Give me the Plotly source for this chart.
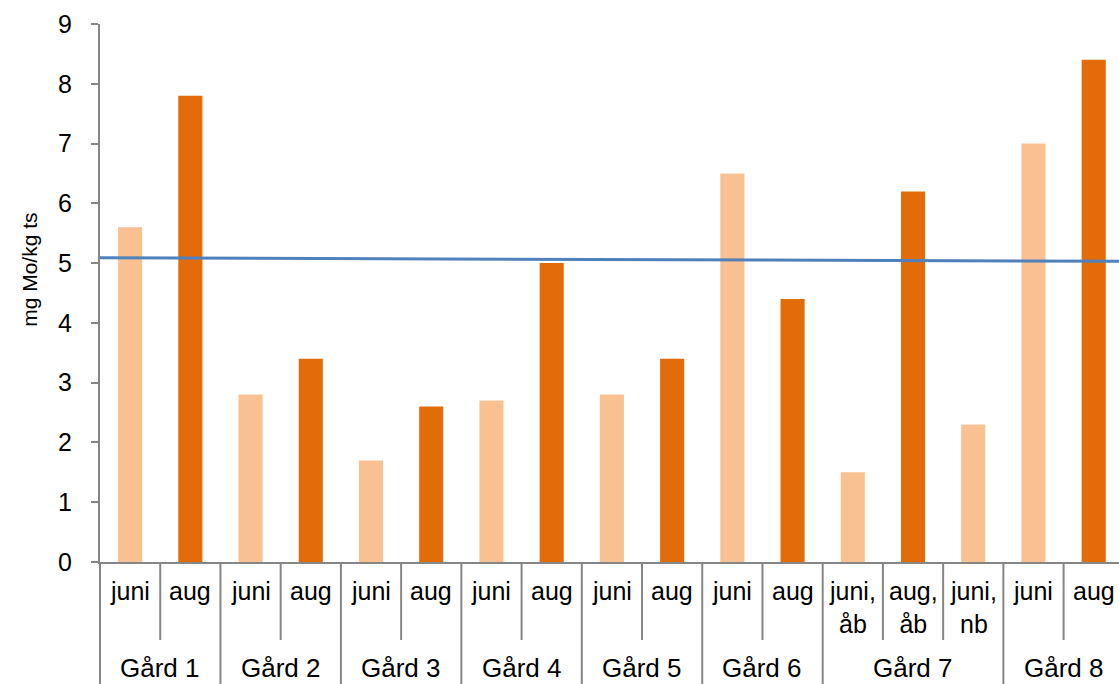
import plotly.graph_objects as go

# Molybdenum content per farm and sampling occasion
farms = ["Gård 1", "Gård 2", "Gård 3", "Gård 4", "Gård 5", "Gård 6", "Gård 7", "Gård 8"]
samples = [
    ["juni", "aug"],
    ["juni", "aug"],
    ["juni", "aug"],
    ["juni", "aug"],
    ["juni", "aug"],
    ["juni", "aug"],
    ["juni,<br>åb", "aug,<br>åb", "juni,<br>nb"],
    ["juni", "aug"],
]
values = [
    [5.6, 7.8],
    [2.8, 3.4],
    [1.7, 2.6],
    [2.7, 5.0],
    [2.8, 3.4],
    [6.5, 4.4],
    [1.5, 6.2, 2.3],
    [7.0, 8.4],
]
# reference level drawn across the chart (start, end)
reference_level = [5.09, 5.03]

y_ticks = list(range(0, 10))
y_title = "mg Mo/kg ts"

JUNI_COLOR = "#F9C191"
AUG_COLOR = "#E36C0A"
LINE_COLOR = "#4F81BD"
AXIS_COLOR = "#868686"
FONT = "Liberation Sans, Arial, sans-serif"

xs, ys, colors, labels = [], [], [], []
group_bounds = []
pos = 0
for farm, subs, vals in zip(farms, samples, values):
    start = pos
    for s, v in zip(subs, vals):
        xs.append(pos)
        ys.append(v)
        labels.append(s)
        colors.append(JUNI_COLOR if s.startswith("juni") else AUG_COLOR)
        pos += 1
    group_bounds.append((start, pos - 1))

n = len(xs)

fig = go.Figure()
fig.add_trace(go.Bar(
    x=xs, y=ys, marker=dict(color=colors, line=dict(width=0)),
    width=0.4, showlegend=False, hoverinfo="y",
))
fig.add_trace(go.Scatter(
    x=[-0.5, n - 0.5], y=reference_level, mode="lines",
    line=dict(color=LINE_COLOR, width=3), showlegend=False, hoverinfo="skip",
))

annotations = []
shapes = []
# sample labels under each bar
for x, lab in zip(xs, labels):
    annotations.append(dict(
        x=x, y=0, xref="x", yref="paper", text=lab, showarrow=False,
        yanchor="top", yshift=-13, font=dict(size=25, color="#000000", family=FONT),
        align="center",
    ))
# farm labels and divider lines
for farm, (a, b) in zip(farms, group_bounds):
    annotations.append(dict(
        x=(a + b) / 2, y=0, xref="x", yref="paper", text=farm, showarrow=False,
        yanchor="bottom", yshift=-123, font=dict(size=26, color="#000000", family=FONT),
    ))
    for k in range(a, b):
        shapes.append(dict(
            type="line", xref="x", yref="paper", x0=k + 0.5, x1=k + 0.5,
            y0=0, y1=-0.145, line=dict(color=AXIS_COLOR, width=2),
        ))
    if a > 0:
        shapes.append(dict(
            type="line", xref="x", yref="paper", x0=a - 0.5, x1=a - 0.5,
            y0=0, y1=-0.25, line=dict(color=AXIS_COLOR, width=2),
        ))
shapes.append(dict(
    type="line", xref="paper", yref="paper", x0=0, x1=0,
    y0=0, y1=-0.25, line=dict(color=AXIS_COLOR, width=2),
))

# rotated y-axis title
annotations.append(dict(
    x=0, y=0.543, xref="paper", yref="paper", text=y_title, textangle=-90,
    showarrow=False, xanchor="center", yanchor="middle", xshift=-70,
    font=dict(size=21, color="#000000", family=FONT),
))

fig.update_layout(
    width=1119, height=684,
    margin=dict(l=100, r=0, t=24, b=122),
    paper_bgcolor="white", plot_bgcolor="white",
    font=dict(family=FONT, color="#000000"),
    bargap=0.6,
    xaxis=dict(
        range=[-0.5, n - 0.58], showticklabels=False, ticks="",
        showgrid=False, zeroline=False, showline=True,
        linecolor=AXIS_COLOR, linewidth=2,
    ),
    yaxis=dict(
        range=[0, 9], tickvals=y_ticks, ticks="outside", ticklen=7,
        tickcolor=AXIS_COLOR, tickwidth=2, showgrid=False, zeroline=False,
        showline=True, linecolor=AXIS_COLOR, linewidth=2,
        tickfont=dict(size=25, family=FONT, color="#000000"),
        ticklabelstandoff=14,
    ),
    annotations=annotations,
    shapes=shapes,
)

fig.write_html("out.html")
